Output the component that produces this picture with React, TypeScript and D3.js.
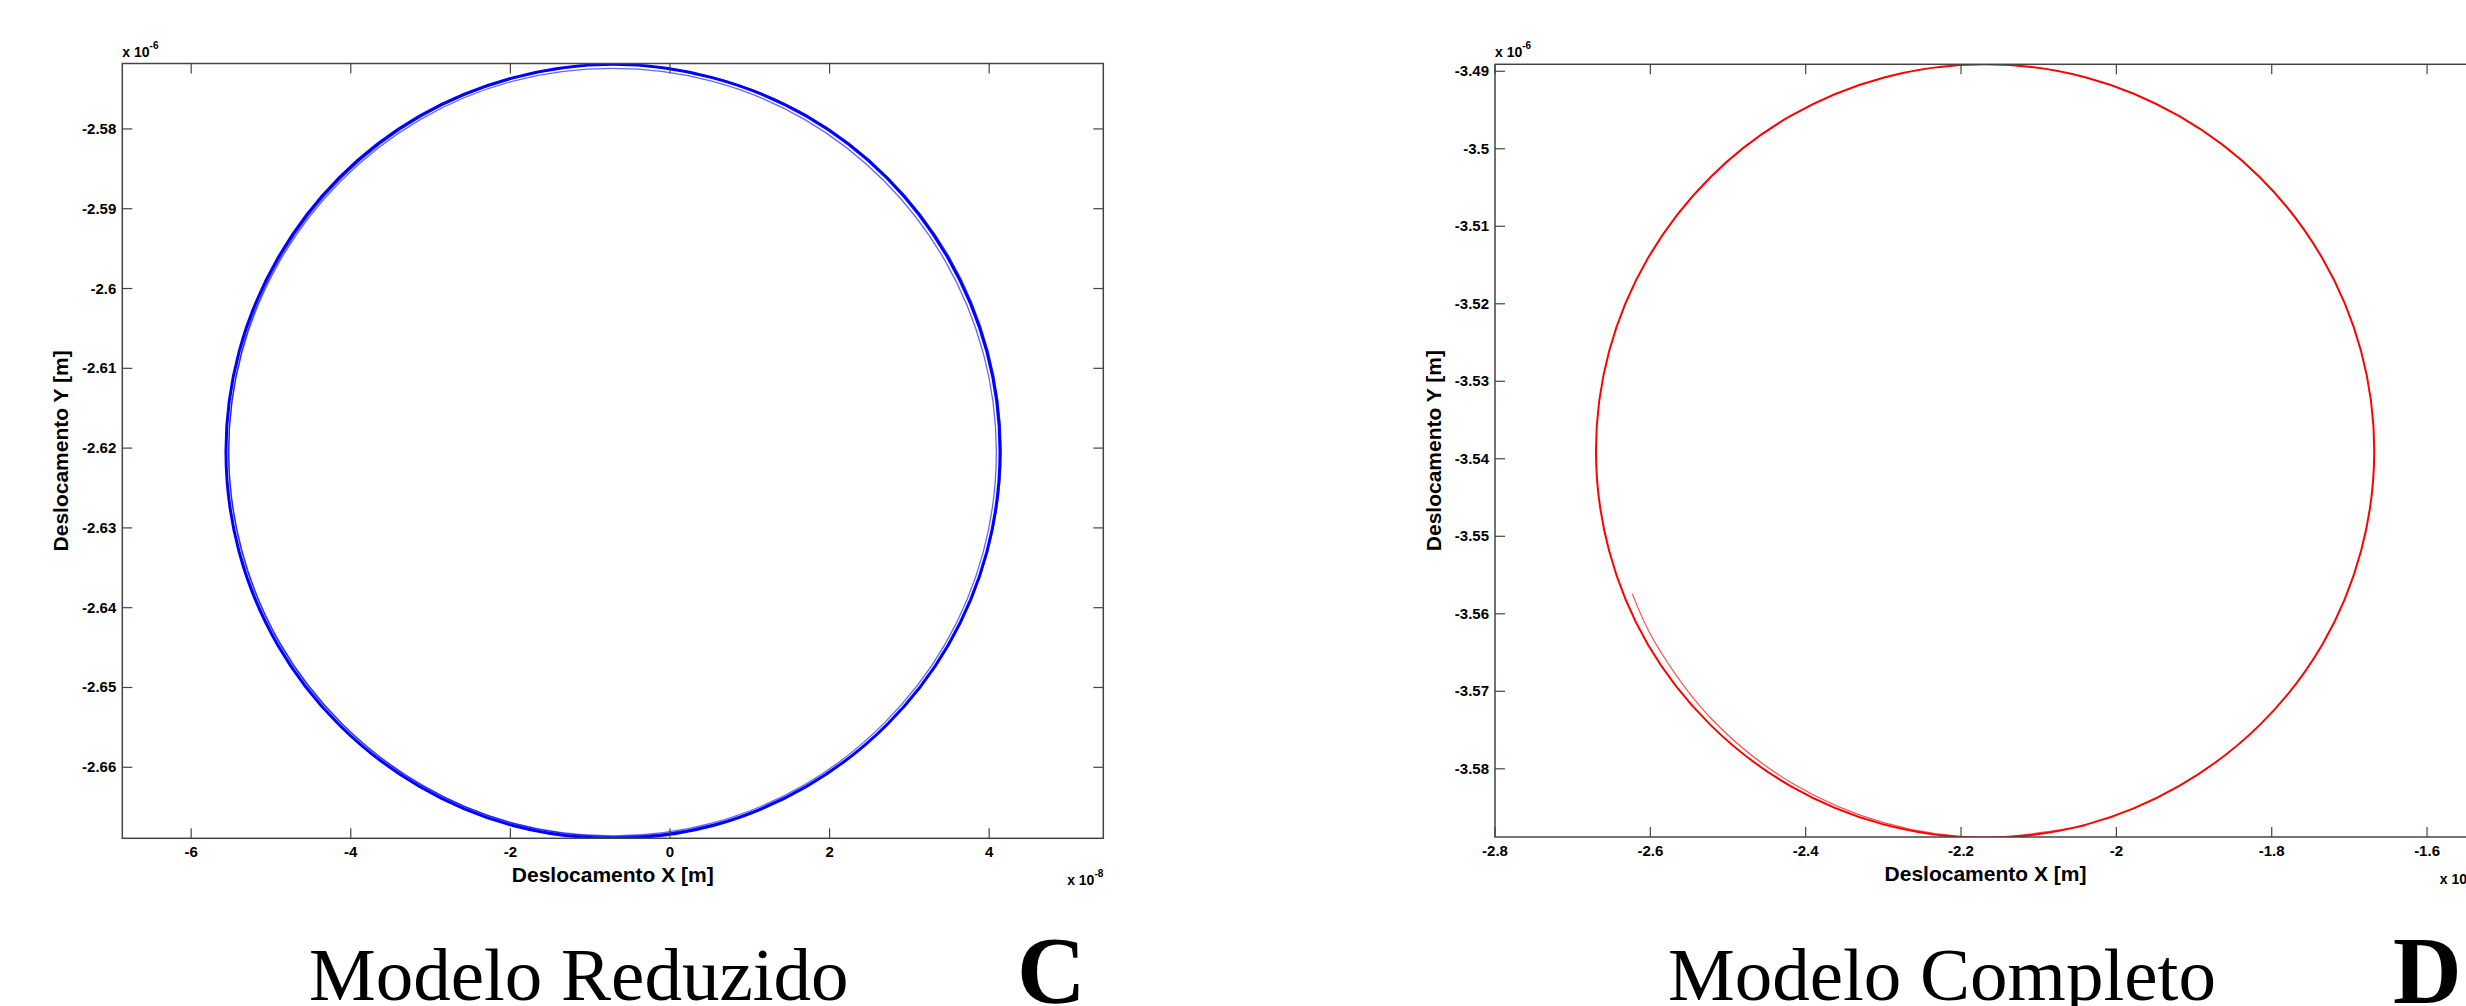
import * as d3 from "d3";

// tick values (x in 1e-8 / 1e-7 m, y in 1e-6 m)
const blueXTicks = [-6, -4, -2, 0, 2, 4];
const blueYTicks = [-2.58, -2.59, -2.6, -2.61, -2.62, -2.63, -2.64, -2.65, -2.66];
const redXTicks = [-2.8, -2.6, -2.4, -2.2, -2, -1.8, -1.6];
const redYTicks = [-3.49, -3.5, -3.51, -3.52, -3.53, -3.54, -3.55, -3.56, -3.57, -3.58];

// orbit of the reduced model (several nearly overlapping passes)
const blueOrbitAX = [4.136, 3.971, 3.486, 2.715, 1.711, 0.541, -0.714, -1.969, -3.139, -4.143, -4.914, -5.399, -5.564, -5.399, -4.914, -4.143, -3.139, -1.969, -0.714, 0.541, 1.711, 2.715, 3.486, 3.971];
const blueOrbitAY = [-2.6204, -2.6079, -2.5962, -2.5861, -2.5784, -2.5736, -2.5719, -2.5736, -2.5784, -2.5861, -2.5962, -2.6079, -2.6204, -2.633, -2.6447, -2.6547, -2.6624, -2.6673, -2.6689, -2.6673, -2.6624, -2.6547, -2.6447, -2.633];
const blueOrbitBX = [4.09, 3.926, 3.446, 2.681, 1.685, 0.525, -0.72, -1.965, -3.125, -4.121, -4.886, -5.366, -5.53, -5.366, -4.886, -4.121, -3.125, -1.965, -0.72, 0.525, 1.685, 2.681, 3.446, 3.926];
const blueOrbitBY = [-2.6205, -2.6081, -2.5965, -2.5865, -2.5788, -2.574, -2.5724, -2.574, -2.5788, -2.5865, -2.5965, -2.6081, -2.6205, -2.633, -2.6446, -2.6545, -2.6622, -2.667, -2.6686, -2.667, -2.6622, -2.6545, -2.6446, -2.633];
const blueOrbitCX = [4.15, 3.985, 3.502, 2.732, 1.73, 0.563, -0.69, -1.943, -3.11, -4.112, -4.882, -5.365, -5.53, -5.365, -4.882, -4.112, -3.11, -1.943, -0.69, 0.563, 1.73, 2.732, 3.502, 3.985];
const blueOrbitCY = [-2.6203, -2.6078, -2.5961, -2.5861, -2.5784, -2.5736, -2.5719, -2.5736, -2.5784, -2.5861, -2.5961, -2.6078, -2.6203, -2.6328, -2.6445, -2.6545, -2.6622, -2.6671, -2.6687, -2.6671, -2.6622, -2.6545, -2.6445, -2.6328];

// orbit of the complete model, plus the start-up transient inside it
const redOrbitX = [-1.668, -1.685, -1.735, -1.815, -1.919, -2.039, -2.169, -2.299, -2.42, -2.523, -2.603, -2.653, -2.67, -2.653, -2.603, -2.523, -2.42, -2.299, -2.169, -2.039, -1.919, -1.815, -1.735, -1.685];
const redOrbitY = [-3.539, -3.5261, -3.5141, -3.5037, -3.4958, -3.4908, -3.4891, -3.4908, -3.4958, -3.5037, -3.5141, -3.5261, -3.539, -3.5519, -3.564, -3.5743, -3.5822, -3.5872, -3.5889, -3.5872, -3.5822, -3.5743, -3.564, -3.5519];
const redTransientX = [-2.6233, -2.5946, -2.518, -2.4168, -2.2976, -2.169, -2.0395];
const redTransientY = [-3.5574, -3.5636, -3.5739, -3.5819, -3.587, -3.58885, -3.58734];

const SANS = "'Liberation Sans', Arial, Helvetica, sans-serif";
const SERIF = "'Liberation Serif', 'Times New Roman', serif";

type Orbit = { xs: number[]; ys: number[]; color: string; width: number; opacity: number; closed: boolean };

type PanelProps = {
  id: string;
  left: number; right: number; top: number; bottom: number;
  xDomain: [number, number]; yDomain: [number, number];
  xTicks: number[]; yTicks: number[];
  xExp: string; yExp: string;
  orbits: Orbit[];
};

function Panel(p: PanelProps) {
  const x = d3.scaleLinear().domain(p.xDomain).range([p.left, p.right]);
  const y = d3.scaleLinear().domain(p.yDomain).range([p.bottom, p.top]);
  const tick = 10;
  const axisColor = "#444";
  const cx = (p.left + p.right) / 2;
  const cy = (p.top + p.bottom) / 2;

  return (
    <g>
      <defs>
        <clipPath id={p.id}>
          <rect x={p.left} y={p.top} width={p.right - p.left} height={p.bottom - p.top} />
        </clipPath>
      </defs>
      <g clipPath={`url(#${p.id})`}>
        {p.orbits.map((o, k) => {
          const line = d3.line<number>()
            .x(i => x(o.xs[i]))
            .y(i => y(o.ys[i]))
            .curve(o.closed ? d3.curveCatmullRomClosed : d3.curveCatmullRom);
          return (
            <path key={k} d={line(d3.range(o.xs.length)) ?? ""} fill="none"
              stroke={o.color} strokeWidth={o.width} strokeOpacity={o.opacity} />
          );
        })}
      </g>
      <rect x={p.left} y={p.top} width={p.right - p.left} height={p.bottom - p.top}
        fill="none" stroke={axisColor} strokeWidth={1.5} />
      {p.xTicks.map(t => (
        <g key={"x" + t}>
          <line x1={x(t)} x2={x(t)} y1={p.bottom} y2={p.bottom - tick} stroke={axisColor} strokeWidth={1.2} />
          <line x1={x(t)} x2={x(t)} y1={p.top} y2={p.top + tick} stroke={axisColor} strokeWidth={1.2} />
          <text x={x(t)} y={p.bottom + 19} textAnchor="middle" fontFamily={SANS} fontWeight="bold" fontSize={15}>
            {String(t)}
          </text>
        </g>
      ))}
      {p.yTicks.map(t => (
        <g key={"y" + t}>
          <line x1={p.left} x2={p.left + tick} y1={y(t)} y2={y(t)} stroke={axisColor} strokeWidth={1.2} />
          <line x1={p.right} x2={p.right - tick} y1={y(t)} y2={y(t)} stroke={axisColor} strokeWidth={1.2} />
          <text x={p.left - 6} y={y(t) + 5} textAnchor="end" fontFamily={SANS} fontWeight="bold" fontSize={15}>
            {String(t)}
          </text>
        </g>
      ))}
      <text x={p.left} y={p.top - 7} fontFamily={SANS} fontWeight="bold" fontSize={14}>
        x 10<tspan dy={-8} fontSize={10}>{p.yExp}</tspan>
      </text>
      <text x={p.right} y={p.bottom + 47} textAnchor="end" fontFamily={SANS} fontWeight="bold" fontSize={14}>
        x 10<tspan dy={-8} fontSize={10}>{p.xExp}</tspan>
      </text>
      <text x={cx} y={p.bottom + 44} textAnchor="middle" fontFamily={SANS} fontWeight="bold" fontSize={21}>
        Deslocamento X [m]
      </text>
      <text transform={`translate(${p.left - 54},${cy}) rotate(-90)`} textAnchor="middle"
        fontFamily={SANS} fontWeight="bold" fontSize={21}>
        Deslocamento Y [m]
      </text>
    </g>
  );
}

export default function App() {
  const blue: Orbit[] = [
    { xs: blueOrbitBX, ys: blueOrbitBY, color: "#0000ff", width: 1.3, opacity: 0.6, closed: true },
    { xs: blueOrbitCX, ys: blueOrbitCY, color: "#0000ff", width: 1.3, opacity: 0.7, closed: true },
    { xs: blueOrbitAX, ys: blueOrbitAY, color: "#0000ff", width: 3, opacity: 1, closed: true },
  ];
  const red: Orbit[] = [
    { xs: redTransientX, ys: redTransientY, color: "#ff0000", width: 1.2, opacity: 0.7, closed: false },
    { xs: redOrbitX, ys: redOrbitY, color: "#ff0000", width: 2, opacity: 1, closed: true },
  ];
  return (
    <svg width={2466} height={1006} style={{ position: "absolute", left: 0, top: 0, display: "block", background: "#fff" }}>
      <rect width={2466} height={1006} fill="#fff" />
      <Panel id="clipC" left={122.3} right={1103.3} top={63.5} bottom={838.3}
        xDomain={[-6.863, 5.43]} yDomain={[-2.6689, -2.5718]}
        xTicks={blueXTicks} yTicks={blueYTicks} xExp="-8" yExp="-6" orbits={blue} />
      <Panel id="clipD" left={1495} right={2476} top={64.3} bottom={837}
        xDomain={[-2.8, -1.537]} yDomain={[-3.5888, -3.4891]}
        xTicks={redXTicks} yTicks={redYTicks} xExp="-7" yExp="-6" orbits={red} />
      <text x={309} y={1000} fontFamily={SERIF} fontSize={75}>Modelo Reduzido</text>
      <text x={1017} y={1003} fontFamily={SERIF} fontWeight="bold" fontSize={95}>C</text>
      <text x={1668} y={1000} fontFamily={SERIF} fontSize={75}>Modelo Completo</text>
      <text x={2393} y={1003} fontFamily={SERIF} fontWeight="bold" fontSize={95}>D</text>
    </svg>
  );
}
